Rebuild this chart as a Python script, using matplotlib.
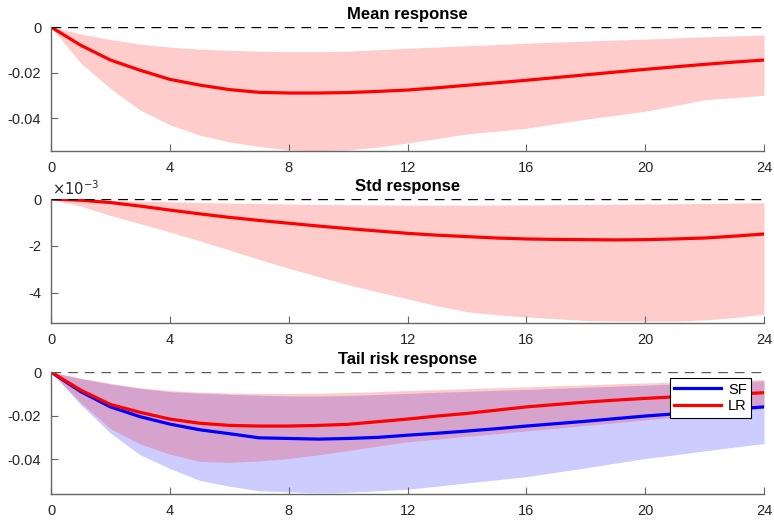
import numpy as np
import matplotlib
matplotlib.use('Agg')
import matplotlib.pyplot as plt

plt.rcParams['font.family'] = ['Liberation Sans', 'DejaVu Sans']

h = np.arange(25)

# Mean response ###########################################
mean_irf = [0, -0.0080, -0.0145, -0.0190, -0.0230, -0.0255, -0.0275, -0.0287, -0.0290,
            -0.0290, -0.0288, -0.0283, -0.0277, -0.0267, -0.0256, -0.0245, -0.0234,
            -0.0222, -0.0210, -0.0198, -0.0186, -0.0175, -0.0164, -0.0154, -0.0145]
mean_up = [0, -0.0030, -0.0055, -0.0075, -0.0088, -0.0097, -0.0102, -0.0106, -0.0108,
           -0.0108, -0.0106, -0.0100, -0.0093, -0.0088, -0.0082, -0.0077, -0.0071,
           -0.0066, -0.0062, -0.0057, -0.0053, -0.0048, -0.0043, -0.0039, -0.0035]
mean_lo = [0, -0.0158, -0.0270, -0.0365, -0.0430, -0.0475, -0.0505, -0.0525, -0.0540,
           -0.0545, -0.0540, -0.0528, -0.0510, -0.0490, -0.0470, -0.0458, -0.0445,
           -0.0425, -0.0405, -0.0388, -0.0370, -0.0345, -0.0320, -0.0310, -0.0300]

# Std response (x 1e-3) ###################################
std_irf = [0, -0.05, -0.15, -0.30, -0.47, -0.63, -0.78, -0.91, -1.03, -1.15, -1.26,
           -1.36, -1.46, -1.54, -1.60, -1.66, -1.70, -1.72, -1.73, -1.74, -1.73,
           -1.70, -1.66, -1.58, -1.49]
std_up = [0, -0.03, -0.06, -0.09, -0.12, -0.15, -0.17, -0.19, -0.21, -0.23, -0.24,
          -0.25, -0.26, -0.26, -0.26, -0.25, -0.25, -0.24, -0.23, -0.22, -0.21,
          -0.20, -0.19, -0.17, -0.16]
std_lo = [0, -0.30, -0.70, -1.05, -1.40, -1.78, -2.17, -2.57, -2.95, -3.30, -3.65,
          -3.95, -4.25, -4.55, -4.80, -4.93, -5.02, -5.10, -5.17, -5.20, -5.20,
          -5.20, -5.15, -5.05, -4.90]

# Tail risk response ######################################
sf_irf = [0, -0.0090, -0.0160, -0.0205, -0.0239, -0.0265, -0.0283, -0.0302, -0.0305,
          -0.0308, -0.0305, -0.0300, -0.0290, -0.0281, -0.0271, -0.0260, -0.0248,
          -0.0237, -0.0226, -0.0214, -0.0202, -0.0192, -0.0180, -0.0170, -0.0160]
sf_up = [0, -0.0030, -0.0055, -0.0075, -0.0090, -0.0097, -0.0102, -0.0106, -0.0110,
         -0.0110, -0.0108, -0.0103, -0.0098, -0.0093, -0.0089, -0.0084, -0.0080,
         -0.0075, -0.0070, -0.0065, -0.0060, -0.0055, -0.0050, -0.0045, -0.0041]
sf_lo = [0, -0.0150, -0.0280, -0.0380, -0.0443, -0.0497, -0.0524, -0.0545, -0.0550,
         -0.0555, -0.0552, -0.0545, -0.0538, -0.0524, -0.0509, -0.0495, -0.0480,
         -0.0460, -0.0440, -0.0418, -0.0397, -0.0380, -0.0362, -0.0345, -0.0328]
lr_irf = [0, -0.0083, -0.0149, -0.0185, -0.0216, -0.0235, -0.0245, -0.0248, -0.0248,
          -0.0245, -0.0240, -0.0228, -0.0216, -0.0202, -0.0190, -0.0175, -0.0160,
          -0.0149, -0.0138, -0.0129, -0.0121, -0.0114, -0.0107, -0.0101, -0.0095]
lr_up = [0, -0.0028, -0.0052, -0.0072, -0.0085, -0.0092, -0.0096, -0.0098, -0.0098,
         -0.0097, -0.0094, -0.0090, -0.0085, -0.0081, -0.0076, -0.0072, -0.0068,
         -0.0063, -0.0059, -0.0054, -0.0050, -0.0046, -0.0042, -0.0038, -0.0034]
lr_lo = [0, -0.0140, -0.0260, -0.0330, -0.0377, -0.0410, -0.0415, -0.0408, -0.0397,
         -0.0380, -0.0360, -0.0340, -0.0320, -0.0308, -0.0295, -0.0283, -0.0270,
         -0.0258, -0.0245, -0.0233, -0.0220, -0.0207, -0.0194, -0.0180, -0.0165]

xticks = [0, 4, 8, 12, 16, 20, 24]
dark = '0.15'


def style(ax, title, ylim, yticks, yticklabels):
    ax.set_xlim(0, 24)
    ax.set_ylim(*ylim)
    ax.set_xticks(xticks)
    ax.set_yticks(yticks)
    ax.set_yticklabels(yticklabels)
    ax.spines['top'].set_visible(False)
    ax.spines['right'].set_visible(False)
    for s in ['left', 'bottom']:
        ax.spines[s].set_color('0.4')
        ax.spines[s].set_linewidth(1.0)
    ax.tick_params(direction='in', length=5, colors='0.4', labelcolor=dark,
                   labelsize=10.5, pad=7)
    ax.set_title(title, fontsize=12, fontweight='bold', pad=6)


fig = plt.figure(figsize=(7.74, 5.22), dpi=100)
ax1 = fig.add_axes([0.0659, 0.7107, 0.9212, 0.2375])
ax2 = fig.add_axes([0.0659, 0.3812, 0.9212, 0.2375])
ax3 = fig.add_axes([0.0659, 0.0536, 0.9212, 0.2337])

red = (1, 0, 0)
blue = (0, 0, 1)

# Mean
ax1.fill_between(h, mean_lo, mean_up, color=red, alpha=0.2, lw=0)
ax1.plot(h, mean_irf, color=red, lw=2.3)
ax1.axhline(0, color='k', ls=(0, (7, 5)), lw=1)
style(ax1, 'Mean response', (-0.0545, 0), [-0.04, -0.02, 0], ['-0.04', '-0.02', '0'])

# Std
ax2.fill_between(h, std_lo, std_up, color=red, alpha=0.2, lw=0)
ax2.plot(h, std_irf, color=red, lw=2.3)
ax2.axhline(0, color='k', ls=(0, (7, 5)), lw=1)
style(ax2, 'Std response', (-5.28, 0), [-4, -2, 0], ['-4', '-2', '0'])
ax2.text(0.002, 1.005, r'$\times10^{-3}$', transform=ax2.transAxes, fontsize=10.5,
         color=dark, va='bottom', ha='left')

# Tail risk
ax3.fill_between(h, sf_lo, sf_up, color=blue, alpha=0.2, lw=0)
l1, = ax3.plot(h, sf_irf, color=blue, lw=2.3, label='SF')
ax3.fill_between(h, lr_lo, lr_up, color=red, alpha=0.2, lw=0)
l2, = ax3.plot(h, lr_irf, color=red, lw=2.3, label='LR')
ax3.axhline(0, color='0.35', ls=(0, (7, 5)), lw=1)
style(ax3, 'Tail risk response', (-0.056, 0), [-0.04, -0.02, 0], ['-0.04', '-0.02', '0'])
leg = ax3.legend(handles=[l1, l2], loc='upper right', bbox_to_anchor=(0.982, 0.95),
                 fontsize=10.5, fancybox=False, framealpha=1, edgecolor='k',
                 handlelength=3.2, borderpad=0.3, labelspacing=0.2, handletextpad=0.5,
                 borderaxespad=0)
leg.get_frame().set_linewidth(0.8)

fig.savefig('out.png', dpi=100)
